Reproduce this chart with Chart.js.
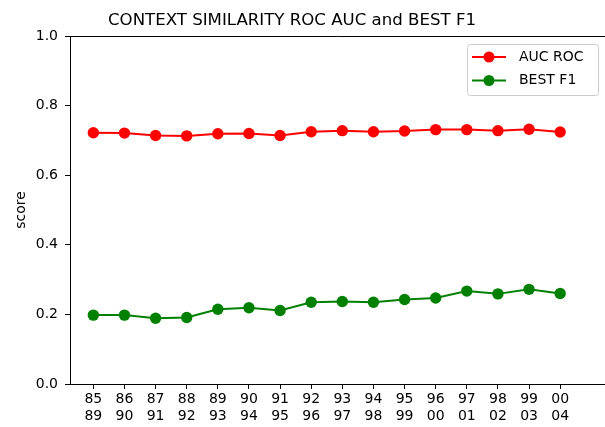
<!DOCTYPE html>
<html>
<head>
<meta charset="utf-8">
<script src="https://cdn.jsdelivr.net/npm/chart.js@4"></script>
<style>
  html, body { margin: 0; padding: 0; background: #fff; overflow: hidden; }
  #wrap { width: 605px; height: 427px; position: relative; overflow: hidden; }
</style>
</head>
<body>
<div id="wrap"><canvas id="rocChart" width="611" height="427"></canvas></div>
<script>
// Window start / end years (two-line tick labels)
const startYears = ['85','86','87','88','89','90','91','92','93','94','95','96','97','98','99','00'];
const endYears   = ['89','90','91','92','93','94','95','96','97','98','99','00','01','02','03','04'];

// Series
const aucRoc = [0.722, 0.721, 0.714, 0.713, 0.719, 0.720, 0.714, 0.725, 0.728, 0.725, 0.727, 0.731, 0.731, 0.728, 0.732, 0.724];
const bestF1 = [0.198, 0.198, 0.189, 0.191, 0.215, 0.219, 0.211, 0.235, 0.237, 0.235, 0.243, 0.247, 0.267, 0.259, 0.272, 0.260];

const yTicks = [0, 0.2, 0.4, 0.6, 0.8, 1.0];

const FONT = 'DejaVu Sans';

const toPoints = arr => arr.map((v, i) => ({ x: i, y: v }));

// title + top spine + matplotlib style legend
const decorPlugin = {
    id: 'decor',
    afterDraw(chart) {
        const ctx = chart.ctx;
        const area = chart.chartArea;
        ctx.save();
        // top spine
        ctx.strokeStyle = '#000';
        ctx.lineWidth = 1;
        ctx.beginPath();
        ctx.moveTo(area.left, Math.round(area.top) + 0.5);
        ctx.lineTo(area.right, Math.round(area.top) + 0.5);
        ctx.stroke();

        // title
        ctx.fillStyle = '#000';
        ctx.font = '16.6px "' + FONT + '"';
        ctx.textAlign = 'center';
        ctx.textBaseline = 'middle';
        ctx.fillText('CONTEXT SIMILARITY ROC AUC and BEST F1', 292, 20.5);

        // legend
        const bx = 467, by = 44, bw = 131, bh = 51;
        ctx.fillStyle = 'rgba(255,255,255,0.8)';
        ctx.strokeStyle = '#cccccc';
        ctx.lineWidth = 1;
        ctx.beginPath();
        ctx.roundRect(bx + 0.5, by + 0.5, bw, bh, 3);
        ctx.fill();
        ctx.stroke();
        chart.data.datasets.forEach((ds, i) => {
            const y = 57 + i * 23.5;
            ctx.strokeStyle = ds.borderColor;
            ctx.lineWidth = 2;
            ctx.beginPath();
            ctx.moveTo(472, y);
            ctx.lineTo(506, y);
            ctx.stroke();
            ctx.fillStyle = ds.backgroundColor;
            ctx.beginPath();
            ctx.arc(489, y, 5.5, 0, Math.PI * 2);
            ctx.fill();
            ctx.fillStyle = '#000';
            ctx.font = '14px "' + FONT + '"';
            ctx.textAlign = 'left';
            ctx.textBaseline = 'middle';
            ctx.fillText(ds.label, 519, y);
        });
        ctx.restore();
    }
};

const ctx = document.getElementById('rocChart').getContext('2d');
const rocChart = new Chart(ctx, {
    type: 'line',
    data: {
        datasets: [{
            label: 'AUC ROC',
            data: toPoints(aucRoc),
            borderColor: '#ff0000',
            backgroundColor: '#ff0000',
            borderWidth: 2,
            pointRadius: 5.7,
            pointBorderWidth: 0,
            pointHoverRadius: 5.7
        }, {
            label: 'BEST F1',
            data: toPoints(bestF1),
            borderColor: '#008000',
            backgroundColor: '#008000',
            borderWidth: 2,
            pointRadius: 5.7,
            pointBorderWidth: 0,
            pointHoverRadius: 5.7
        }]
    },
    options: {
        responsive: false,
        animation: false,
        layout: { padding: { top: 36, right: 0, left: 0, bottom: 0 } },
        plugins: {
            legend: { display: false },
            title: { display: false },
            tooltip: { enabled: false }
        },
        scales: {
            x: {
                type: 'linear',
                min: -0.75,
                max: 16.45,
                afterBuildTicks(scale) {
                    scale.ticks = startYears.map((_, i) => ({ value: i }));
                },
                afterFit(scale) { scale.height = 43; },
                border: { color: '#000', width: 1 },
                grid: { drawOnChartArea: false, tickLength: 5, tickColor: '#000' },
                ticks: {
                    autoSkip: false,
                    maxRotation: 0,
                    padding: 2,
                    color: '#000',
                    font: { family: FONT, size: 14, lineHeight: 1.2 },
                    callback: (v) => [startYears[v], endYears[v]]
                }
            },
            y: {
                min: 0,
                max: 1,
                afterBuildTicks(scale) {
                    scale.ticks = yTicks.map(v => ({ value: v }));
                },
                afterFit(scale) { scale.width = 70; },
                border: { color: '#000', width: 1 },
                grid: { drawOnChartArea: false, tickLength: 5, tickColor: '#000' },
                title: {
                    display: true,
                    text: 'score',
                    color: '#000',
                    font: { family: FONT, size: 14 },
                    padding: { top: 13, bottom: 0 }
                },
                ticks: {
                    padding: 7,
                    color: '#000',
                    font: { family: FONT, size: 14 },
                    callback: (v) => v.toFixed(1)
                }
            }
        }
    },
    plugins: [decorPlugin]
});
</script>
</body>
</html>
